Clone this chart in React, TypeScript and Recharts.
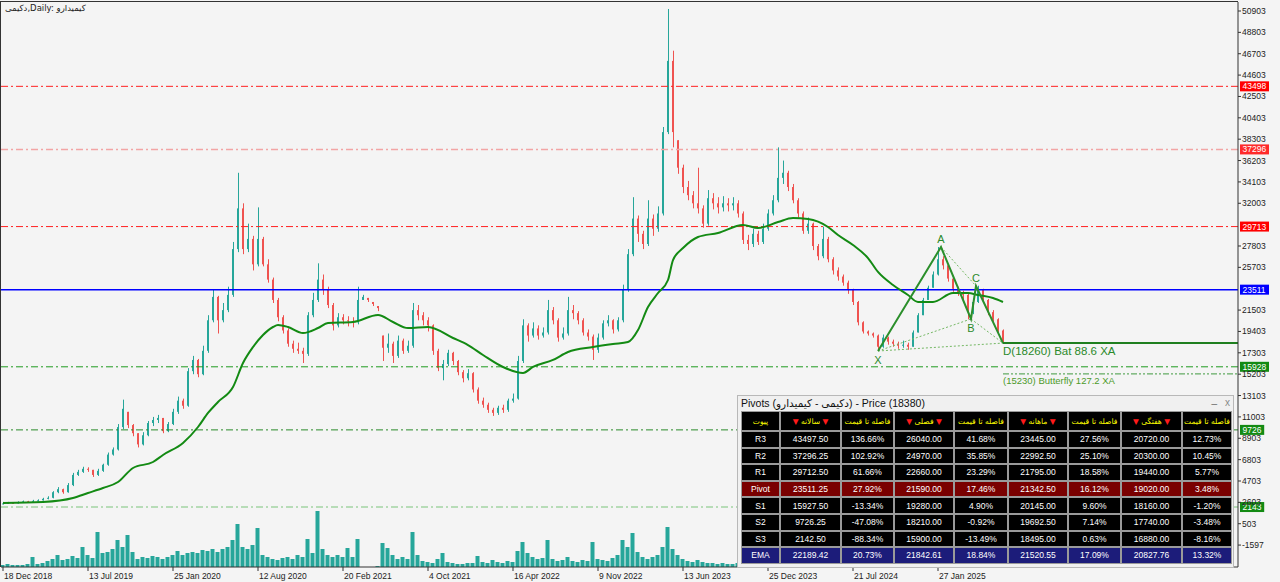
import React from "react";
import { ComposedChart, Bar, Line, XAxis, YAxis, ReferenceLine } from "recharts";

// daily chart squeezed into ~5px bars (one bar ~ one week)
const close = [
  2500, 2550, 2500, 2600, 2700, 2650, 2750, 2800, 2950, 3050,
  3600, 3900, 3600, 4300, 5300, 5600, 5900, 5800, 5300, 5700,
  6300, 7300, 7800, 10000, 11800, 10200, 9400, 8300, 9200, 10400,
  10700, 10900, 9600, 10300, 11500, 12600, 12100, 15500, 16600, 15200,
  17500, 20500, 22800, 20500, 21500, 23000, 27500, 31500, 27500, 28500,
  26000, 28500, 26000, 24500, 22500, 20800, 19500, 18200, 17700, 17500,
  17200, 21000, 22500, 24500, 23500, 22000, 20000, 20800, 20500, 20400,
  20300, 22500, 22800, 22500, 22100, 21700, 17800, 18200, 17000, 18500,
  17500, 18000, 21500, 21000, 20500, 20000, 17500, 15800, 16200, 17300,
  16500, 15400, 14800, 15300, 13700, 12600, 12200, 11700, 11400, 11900,
  11700, 12600, 12800, 16500, 20000, 19000, 19700, 19000, 19300, 21500,
  20500, 18800, 19200, 21500, 21200, 20500, 19300, 18900, 17600, 18800,
  20200, 20500, 19600, 20500, 23500, 27000, 30500, 29000, 28000, 30500,
  29500, 31000, 39000, 46000, 39000, 35500, 33600, 32800, 32000, 31500,
  30000, 32500, 32000, 31600, 32000, 31800, 32000, 31000, 28400, 28000,
  29000, 28200, 29500, 31000, 32300, 34500, 35000, 33600, 32300, 31000,
  29300, 30000, 27800, 26800, 28500, 26500, 25400, 24800, 24200, 23500,
  22300, 20300, 19400, 19200, 19000, 17900, 18800, 18400, 18200, 18000,
  18100, 17900, 19300, 21000, 22500, 23700, 25000, 26500, 25900, 24600,
  23600, 23200, 23000, 21400, 22300, 23500, 22500, 21300, 20600, 19500,
  18380,
];

const high = [
  2650, 2650, 2620, 2700, 2780, 2750, 2850, 2900, 3050, 3200,
  3700, 4100, 3950, 4500, 5500, 5800, 6100, 6050, 5800, 5900,
  6400, 7500, 8000, 10300, 12700, 11500, 10300, 9400, 9500, 10600,
  11000, 11200, 10900, 10500, 11800, 13000, 12800, 15800, 17000, 16700,
  18000, 21000, 23500, 22900, 22200, 23800, 28200, 35000, 32000, 30000,
  28800, 31600, 28700, 26500, 24700, 22700, 21000, 19700, 18500, 18300,
  17800, 21300, 23200, 26100, 25000, 23800, 22200, 21200, 21100, 20900,
  20800, 23800, 23000, 22700, 22300, 21900, 19000, 19200, 18400, 19000,
  18700, 18500, 22200, 22000, 21300, 20800, 20100, 17700, 16600, 17600,
  17400, 16600, 15600, 15700, 15400, 13900, 12900, 12400, 11900, 12100,
  12200, 12800, 13300, 17000, 20600, 20200, 20300, 20000, 19800, 22500,
  21800, 20700, 19800, 22800, 22000, 21400, 20700, 19600, 19100, 19200,
  20500, 21000, 20600, 20800, 24000, 27500, 32600, 30800, 29300, 32300,
  30900, 31700, 39500, 51100, 47000, 38200, 35800, 34200, 33200, 35500,
  31800, 33300, 33000, 32600, 32700, 32500, 32600, 32300, 31200, 28900,
  29500, 29300, 30000, 31400, 32800, 37500, 36200, 35200, 33900, 32500,
  31200, 30600, 30100, 28000, 29700, 28700, 26700, 25700, 25000, 24400,
  23600, 22400, 20400, 19500, 19300, 19100, 19100, 18900, 18600, 18400,
  18500, 18300, 19500, 21200, 22700, 23900, 25300, 27700, 26800, 26000,
  24700, 23800, 23400, 23100, 22600, 23900, 23600, 22600, 21500, 20700,
  19600,
];

const low = [
  2400, 2450, 2450, 2480, 2550, 2580, 2620, 2700, 2780, 2900,
  3000, 3500, 3450, 3550, 4200, 5200, 5500, 5600, 5100, 5200,
  5600, 6200, 7200, 7700, 9800, 9900, 9100, 8000, 8200, 9100,
  10100, 10400, 9400, 9500, 10200, 11300, 11800, 12000, 15200, 14900,
  15100, 17300, 20300, 19200, 20300, 21300, 22800, 27200, 27000, 27200,
  25400, 25800, 25800, 24200, 22200, 20400, 19200, 17900, 17300, 17200,
  16300, 17000, 20800, 22300, 23000, 21700, 19500, 19800, 20100, 19900,
  19800, 20100, 22500, 22300, 21900, 21400, 16500, 17300, 16300, 16800,
  17200, 17300, 17800, 20500, 20000, 19400, 17100, 15500, 14600, 16000,
  16100, 15100, 14400, 14600, 13400, 12300, 11900, 11400, 11100, 11200,
  11400, 11500, 12400, 12700, 16300, 18400, 18800, 18600, 18800, 19100,
  20100, 18400, 18600, 19000, 20600, 20100, 19000, 18500, 16600, 17300,
  18600, 19900, 19200, 19400, 20300, 23300, 26800, 28200, 27500, 27800,
  28800, 29200, 30800, 38800, 37500, 34900, 33000, 32300, 31500, 31000,
  29600, 29800, 31400, 31000, 31200, 31200, 31300, 30600, 28000, 27400,
  27700, 27900, 28000, 29300, 30800, 32100, 33900, 33200, 32000, 30600,
  29000, 29000, 27400, 26400, 26600, 26200, 25000, 24400, 23900, 23100,
  22000, 20000, 19200, 19000, 18800, 17500, 17800, 18100, 17900, 17700,
  17800, 17600, 17900, 19300, 21000, 22500, 23700, 24900, 25500, 24300,
  23300, 22900, 22400, 20600, 21100, 22200, 22200, 21000, 20300, 19200,
  18260,
];

const volume = [
  2, 3, 2, 2, 2, 3, 10, 3, 4, 6,
  8, 12, 7, 8, 11, 9, 20, 12, 9, 35,
  14, 15, 18, 27, 20, 32, 15, 8, 10, 9,
  11, 10, 8, 10, 12, 16, 12, 14, 15, 14,
  17, 16, 18, 15, 18, 20, 27, 43, 20, 18,
  22, 39, 12, 10, 8, 7, 9, 10, 8, 12,
  10, 28, 14, 56, 18, 12, 10, 12, 10, 19,
  10, 28, 0, 0, 0, 1, 24, 19, 12, 8,
  10, 8, 35, 12, 6, 5, 4, 8, 14, 5,
  4, 3, 3, 4, 4, 11, 5, 4, 7, 5,
  4, 6, 5, 16, 25, 14, 10, 8, 9, 27,
  8, 6, 7, 10, 6, 5, 7, 6, 25, 8,
  7, 6, 9, 12, 27, 20, 34, 15, 10, 8,
  10, 12, 20, 40, 18, 12, 8, 6, 5, 7,
  5, 4, 4, 3, 4, 3, 3, 4, 6, 5,
  5, 6, 5, 7, 8, 12, 10, 7, 6, 5,
  6, 5, 7, 6, 8, 5, 6, 5, 6, 7,
  8, 9, 3, 2, 2, 6, 5, 4, 4, 5,
  4, 5, 3, 3, 4, 6, 8, 10, 7, 6,
  5, 6, 5, 8, 7, 9, 6, 5, 6, 5,
  4,
];

// moving average
const emaBars = [0, 8, 14, 17, 20, 23, 26, 30, 32, 36, 39, 41, 43, 46, 48, 50, 52, 54, 55, 57, 60, 63, 65, 70, 75, 78, 81, 85, 90, 93, 96, 100, 104, 106, 110, 113, 118, 122, 125, 127, 129, 131, 133, 134, 136, 139, 143, 148, 151, 155, 158, 161, 165, 167, 170, 173, 175, 178, 181, 183, 186, 190, 193, 195, 198, 200];
const emaVals = [2540, 2640, 3030, 3520, 4010, 4600, 5980, 6570, 7260, 8440, 10010, 11390, 12470, 13940, 16300, 17870, 19050, 19840, 20040, 19840, 19250, 19740, 20230, 20330, 21020, 20330, 19740, 19840, 18760, 18070, 17090, 15910, 15320, 15910, 16600, 17380, 17870, 18170, 18360, 19540, 21800, 23180, 24460, 26420, 27600, 28690, 29080, 29870, 29570, 30160, 30550, 30450, 29670, 28880, 27900, 26620, 25250, 23970, 22990, 22300, 22300, 23180, 23180, 22990, 22690, 22300];

// harmonic pattern X A B C D
const patBars = [175, 187.6, 193.6, 194.6, 200];
const patVals = [17480, 27700, 20630, 23870, 18260];
const patNames = ["X", "A", "B", "C", ""];
const diagPairs = [[0, 2], [1, 3], [2, 4], [0, 4]];
const batD = 18260;
const butterflyD = 15230;

const pivotLevels = [43497.5, 37296.25, 29712.5, 23511.25, 15927.5, 9726.25, 2142.5];
const pivotTags = ["43498", "37296", "29713", "23511", "15928", "9726", "2143"];

const tickBars = [0, 17, 34, 51, 68, 85, 102, 119, 136, 153, 170, 187];
const dateLabels = ["18 Dec 2018", "13 Jul 2019", "25 Jan 2020", "12 Aug 2020", "20 Feb 2021", "4 Oct 2021", "16 Apr 2022", "9 Nov 2022", "13 Jun 2023", "25 Dec 2023", "21 Jul 2024", "27 Jan 2025"];
const priceTicks = [50903, 48803, 46703, 44603, 42503, 40403, 38303, 36203, 34103, 32003, 27803, 25703, 21503, 19403, 17303, 15203, 13103, 11003, 8903, 6803, 4703, 2603, 503, -1597];

// pivot table
const rowNames = ["R3", "R2", "R1", "Pivot", "S1", "S2", "S3", "EMA"];
const periodNames = ["سالانه", "فصلی", "ماهانه", "هفتگی"];
const yearlyVals = ["43497.50", "37296.25", "29712.50", "23511.25", "15927.50", "9726.25", "2142.50", "22189.42"];
const yearlyPct = ["136.66%", "102.92%", "61.66%", "27.92%", "-13.34%", "-47.08%", "-88.34%", "20.73%"];
const seasonVals = ["26040.00", "24970.00", "22660.00", "21590.00", "19280.00", "18210.00", "15900.00", "21842.61"];
const seasonPct = ["41.68%", "35.85%", "23.29%", "17.46%", "4.90%", "-0.92%", "-13.49%", "18.84%"];
const monthVals = ["23445.00", "22992.50", "21795.00", "21342.50", "20145.00", "19692.50", "18495.00", "21520.55"];
const monthPct = ["27.56%", "25.10%", "18.58%", "16.12%", "9.60%", "7.14%", "0.63%", "17.09%"];
const weekVals = ["20720.00", "20300.00", "19440.00", "19020.00", "18160.00", "17740.00", "16880.00", "20827.76"];
const weekPct = ["12.73%", "10.45%", "5.77%", "3.48%", "-1.20%", "-3.48%", "-8.16%", "13.32%"];

const UP = "#26a69a";
const DOWN = "#ef5350";
const FONT = '"Liberation Sans", Arial, sans-serif';
const FA = '"DejaVu Sans", "Noto Sans", sans-serif';

const pivotStyles = [
  { stroke: "#ff2020", bg: "#ff0000", dash: "7 3 2 3", w: 1 },
  { stroke: "#f2a5a5", bg: "#ff2a2a", dash: "7 3 2 3", w: 1.5 },
  { stroke: "#ff2020", bg: "#ff0000", dash: "7 3 2 3", w: 1 },
  { stroke: "#0000ff", bg: "#0000ff", dash: undefined, w: 1.5 },
  { stroke: "#1f9a1f", bg: "#138a13", dash: "7 3 2 3", w: 1 },
  { stroke: "#2a8a2a", bg: "#138a13", dash: "7 3 2 3", w: 1 },
  { stroke: "#b7dcb7", bg: "#138a13", dash: "7 3 2 3", w: 2 },
];

const bars = close.map((c, i) => {
  const prev = i > 0 ? close[i - 1] : c;
  return {
    i,
    open: Math.min(high[i], Math.max(low[i], prev)),
    close: c,
    high: high[i],
    low: low[i],
    vol: volume[i],
  };
});
const emaData = emaBars.map((b, k) => ({ i: b, v: emaVals[k] }));
const patData = patBars.map((b, k) => ({ i: b, v: patVals[k] }));

function Candle(props: any) {
  const { x, y, width, height, payload } = props;
  if (!payload || height == null) return null;
  const top = height >= 0 ? y : y + height;
  const h = Math.abs(height);
  const up = payload.close >= payload.open;
  const color = up ? UP : DOWN;
  const k = h / Math.max(payload.high - payload.low, 1);
  const bodyTop = top + (payload.high - Math.max(payload.open, payload.close)) * k;
  const bodyH = Math.max(1, Math.abs(payload.close - payload.open) * k);
  const cx = Math.round(x + width / 2) + 0.5;
  return (
    <g>
      <line x1={cx} x2={cx} y1={top} y2={top + h} stroke={color} strokeWidth={1} />
      <rect x={x} y={bodyTop} width={width} height={bodyH} fill={color} />
    </g>
  );
}

function DateTick(props: any) {
  const { x, y, payload } = props;
  const k = tickBars.indexOf(payload.value);
  return (
    <g>
      <line x1={x} x2={x} y1={y} y2={y + 4} stroke="#333" />
      <text x={x + 1} y={y + 12} fontSize={8.5} fill="#222" fontFamily={FONT} textAnchor="start">
        {dateLabels[k]}
      </text>
    </g>
  );
}

function PriceTick(props: any) {
  const { x, y, payload } = props;
  return (
    <g>
      <line x1={x} x2={x + 3} y1={y} y2={y} stroke="#333" />
      <text x={x + 4} y={y + 3} fontSize={8.5} fill="#222" fontFamily={FONT} textAnchor="start">
        {payload.value}
      </text>
    </g>
  );
}

function PivotTag(props: any) {
  const { viewBox, text, bg } = props;
  if (!viewBox) return null;
  const x0 = viewBox.x + viewBox.width + 2;
  const y0 = viewBox.y;
  const w = text.length * 4.8 + 5;
  return (
    <g>
      <rect x={x0} y={y0 - 5} width={w} height={10} fill={bg} />
      <text x={x0 + 2.5} y={y0 + 3} fontSize={8.5} fill="#fff" fontFamily={FONT}>
        {text}
      </text>
    </g>
  );
}

function SegLabel(props: any) {
  const { viewBox, text, color, size, dy } = props;
  if (!viewBox) return null;
  return (
    <text x={viewBox.x} y={viewBox.y + dy} fontSize={size} fill={color} fontFamily={FONT}>
      {text}
    </text>
  );
}

function PatLetter(props: any) {
  const { x, y, index } = props;
  const name = patNames[index];
  if (!name) return null;
  const below = name === "X" || name === "B";
  return (
    <text x={x} y={below ? y + 13 : y - 4} fontSize={11} fill="#2b8a2b" fontFamily={FONT} textAnchor="middle">
      {name}
    </text>
  );
}

// cell widths without the 2px separators
const cols = [37, 59, 51, 58, 52, 58, 51, 59, 48];

const iso: React.CSSProperties = { unicodeBidi: "isolate", fontFamily: FA };

function Cell({ w, bg, color, children, h, fs }: any) {
  return (
    <div
      style={{
        width: w,
        height: h,
        flex: "none",
        background: bg,
        color,
        display: "flex",
        alignItems: "center",
        justifyContent: "center",
        fontSize: fs || 8.5,
        whiteSpace: "nowrap",
        overflow: "hidden",
        boxSizing: "border-box",
      }}
    >
      {children}
    </div>
  );
}

function PivotTable() {
  const header = [
    <span style={iso}>پیوت</span>,
    ...periodNames.flatMap((p) => [
      <span style={{ direction: "ltr", unicodeBidi: "isolate", fontFamily: FA }}>
        <span style={{ color: "#ff1a1a" }}>▼</span> <span style={iso}>{p}</span> <span style={{ color: "#ff1a1a" }}>▼</span>
      </span>,
      <span style={iso}>فاصله تا قیمت</span>,
    ]),
  ];
  return (
    <div
      style={{
        position: "absolute",
        left: 737,
        top: 395,
        width: 497,
        height: 173,
        background: "#f0f0f0",
        border: "1px solid #b8b8b8",
        boxSizing: "border-box",
        fontFamily: FONT,
        direction: "ltr",
      }}
    >
      <div style={{ position: "absolute", left: 3, top: 0, fontSize: 10.5, color: "#111", lineHeight: "15px", whiteSpace: "nowrap" }}>
        Pivots (<span style={iso}>کیمیدارو</span> - <span style={iso}>دکیمی</span>) - Price (18380)
      </div>
      <div style={{ position: "absolute", right: 16, top: -2, fontSize: 10, color: "#666" }}>_</div>
      <div style={{ position: "absolute", right: 3, top: 1, fontSize: 10, color: "#888" }}>x</div>
      <div
        style={{
          position: "absolute",
          left: 3,
          top: 15,
          display: "flex",
          flexDirection: "column",
          gap: 2,
          background: "#9a9a9a",
          padding: 1,
        }}
      >
        <div style={{ display: "flex", gap: 2 }}>
          {header.map((h, c) => (
            <Cell key={c} w={cols[c]} h={18} bg="#000" color="#ffff00" fs={7.6}>
              {h}
            </Cell>
          ))}
        </div>
        {rowNames.map((r, k) => {
          const bg = r === "Pivot" ? "#7a0000" : r === "EMA" ? "#1c1c7a" : "#000";
          const vals = [r, yearlyVals[k], yearlyPct[k], seasonVals[k], seasonPct[k], monthVals[k], monthPct[k], weekVals[k], weekPct[k]];
          return (
            <div key={r} style={{ display: "flex", gap: 2 }}>
              {vals.map((v, c) => (
                <Cell key={c} w={cols[c]} h={14.6} bg={bg} color="#fff">
                  {v}
                </Cell>
              ))}
            </div>
          );
        })}
      </div>
    </div>
  );
}

export default function App() {
  return (
    <div style={{ position: "fixed", left: 0, top: 0, width: 1280, height: 582, background: "#f4f4f4", overflow: "hidden", direction: "ltr" }}>
      <ComposedChart width={1280} height={582} data={bars} margin={{ top: 2, right: 0, bottom: 0, left: 1 }}>
        <XAxis
          xAxisId="p"
          dataKey="i"
          type="number"
          domain={[-0.4, 247]}
          allowDataOverflow
          ticks={tickBars}
          interval={0}
          tick={<DateTick />}
          tickLine={false}
          tickSize={0}
          tickMargin={0}
          axisLine={{ stroke: "#333" }}
          height={15}
        />
        <XAxis xAxisId="v" dataKey="i" type="number" domain={[-0.4, 247]} allowDataOverflow hide />
        <YAxis
          yAxisId="p"
          orientation="right"
          domain={[-3752, 51788]}
          allowDataOverflow
          ticks={priceTicks}
          interval={0}
          width={42}
          tick={<PriceTick />}
          tickLine={false}
          tickSize={0}
          tickMargin={0}
          axisLine={{ stroke: "#333" }}
        />
        <YAxis yAxisId="vol" hide domain={[0, 565]} />

        {pivotLevels.map((v, k) => (
          <ReferenceLine
            key={k}
            xAxisId="p"
            yAxisId="p"
            y={v}
            stroke={pivotStyles[k].stroke}
            strokeWidth={pivotStyles[k].w}
            strokeDasharray={pivotStyles[k].dash}
            label={<PivotTag text={pivotTags[k]} bg={pivotStyles[k].bg} />}
          />
        ))}

        <Bar xAxisId="v" yAxisId="vol" dataKey="vol" fill={UP} barSize={4} isAnimationActive={false} />
        <Bar
          xAxisId="p"
          yAxisId="p"
          dataKey={(d: any) => [d.low, d.high]}
          barSize={3}
          shape={(p: any) => <Candle {...p} />}
          isAnimationActive={false}
        />
        <Line
          xAxisId="p"
          yAxisId="p"
          data={emaData}
          dataKey="v"
          type="monotone"
          stroke="#138a13"
          strokeWidth={2}
          dot={false}
          isAnimationActive={false}
        />

        {diagPairs.map(([a, b], k) => (
          <Line
            key={"d" + k}
            xAxisId="p"
            yAxisId="p"
            data={[patData[a], patData[b]]}
            dataKey="v"
            stroke="#74b864"
            strokeWidth={1}
            strokeDasharray="2 2"
            dot={false}
            isAnimationActive={false}
          />
        ))}
        <Line
          xAxisId="p"
          yAxisId="p"
          data={patData}
          dataKey="v"
          type="linear"
          stroke="#2b8f2b"
          strokeWidth={2}
          dot={false}
          label={(p: any) => <PatLetter {...p} />}
          isAnimationActive={false}
        />

        <ReferenceLine
          xAxisId="p"
          yAxisId="p"
          segment={[{ x: 200, y: batD }, { x: 247, y: batD }]}
          stroke="#1f7f1f"
          strokeWidth={2}
          label={<SegLabel text={`D(${batD}) Bat 88.6 XA`} color="#2b8a2b" size={11.5} dy={12} />}
        />
        <ReferenceLine
          xAxisId="p"
          yAxisId="p"
          segment={[{ x: 200, y: butterflyD }, { x: 247, y: butterflyD }]}
          stroke="#3f9a3f"
          strokeWidth={1}
          strokeDasharray="6 2 2 2 2 2"
          label={<SegLabel text={`(${butterflyD}) Butterfly 127.2 XA`} color="#4d9a2a" size={9.5} dy={10} />}
        />
      </ComposedChart>

      <div style={{ position: "absolute", left: 0, top: 1, width: 1238, height: 566, borderLeft: "1px solid #333", borderTop: "1px solid #333", boxSizing: "border-box", pointerEvents: "none" }} />
      <div style={{ position: "absolute", left: 5, top: 3, fontSize: 8.5, color: "#222", fontFamily: FA, whiteSpace: "nowrap" }}>
        <span style={iso}>دکیمی</span>,Daily: <span style={iso}>کیمیدارو</span>
      </div>
      <PivotTable />
    </div>
  );
}
